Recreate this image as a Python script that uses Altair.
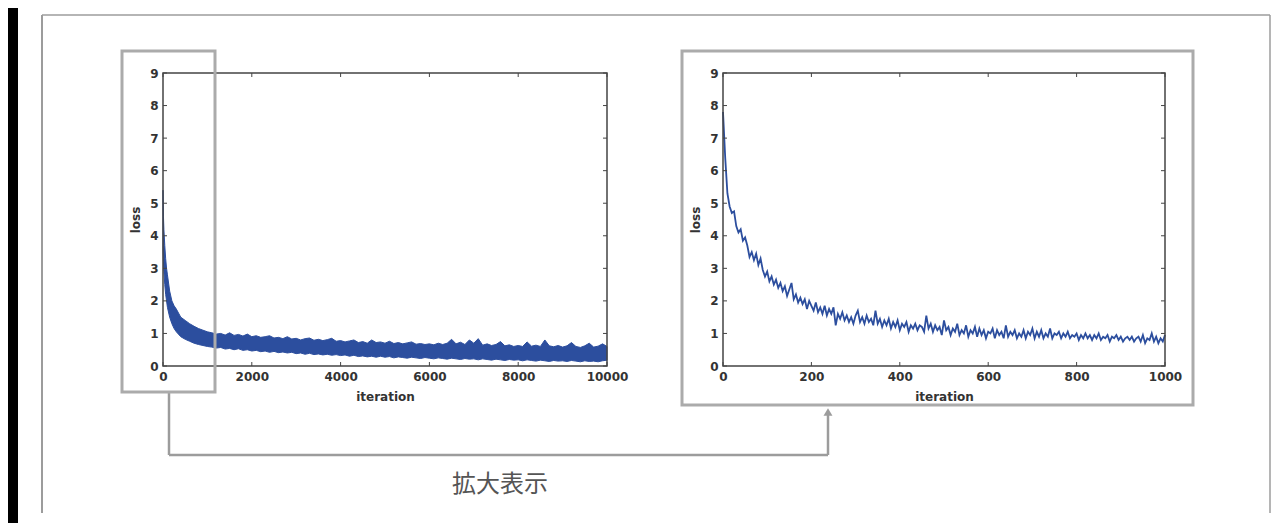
import altair as alt
import pandas as pd

# ---------------- data ----------------
# right panel: loss for the first 1000 iterations (sampled every 5 iterations)
zoom_iter = list(range(0, 1001, 5))
zoom_loss = [
    7.8, 6.4, 5.3, 4.9, 4.7, 4.75, 4.3, 4.1, 4.2, 3.85,
    3.95, 3.7, 3.35, 3.5, 3.25, 3.45, 3.1, 3.3, 2.95, 2.75,
    2.9, 2.6, 2.75, 2.5, 2.65, 2.4, 2.55, 2.3, 2.45, 2.15,
    2.35, 2.55, 2.05, 2.2, 1.95, 2.1, 1.9, 2.05, 1.75, 2.0,
    1.85, 1.7, 1.95, 1.65, 1.8, 1.6, 1.85, 1.55, 1.75, 1.6,
    1.8, 1.25, 1.6, 1.45, 1.65, 1.4, 1.55, 1.35, 1.5, 1.3,
    1.55, 1.7, 1.35, 1.5, 1.3, 1.55, 1.35, 1.45, 1.25, 1.7,
    1.3, 1.45, 1.2, 1.4, 1.25, 1.45, 1.15, 1.35, 1.2, 1.4,
    1.1, 1.3, 1.2, 1.35, 1.05, 1.25, 1.15, 1.3, 1.1, 1.25,
    1.2, 1.05, 1.55, 1.15, 1.3, 1.05, 1.25, 1.1, 1.2, 0.95,
    1.4, 1.1, 1.2, 0.95, 1.15, 1.05, 1.3, 0.95, 1.1, 1.0,
    1.25, 0.9, 1.1, 1.0, 1.2, 0.9, 1.15, 0.95, 1.1, 0.85,
    1.05, 1.0, 1.15, 0.85, 1.1, 0.95, 1.05, 0.85, 1.25, 0.9,
    1.05, 0.95, 1.1, 0.85, 1.0, 0.9, 1.1, 0.85, 1.05, 0.95,
    1.15, 0.85, 1.05, 0.9, 1.1, 0.85, 1.0, 0.9, 1.15, 0.85,
    1.0, 0.95, 1.05, 0.85, 1.0, 0.9, 1.05, 0.85, 0.95, 0.9,
    1.0, 0.8, 0.95, 0.85, 1.0, 0.85, 0.95, 0.8, 0.95, 0.85,
    1.0, 0.8, 0.9, 0.85, 0.95, 0.75, 0.9, 0.85, 0.95, 0.8,
    0.9, 0.75, 0.85, 0.9, 0.8, 0.9, 0.75, 0.85, 0.9, 0.75,
    0.95, 0.7, 0.85, 0.8, 1.0, 0.75, 0.9, 0.7, 0.85, 0.75,
    0.95,
]

# left panel: the dense 10000-iteration trace, read as its upper / lower envelope
band_iter = [0, 10, 20, 40, 60, 80, 100, 150, 200, 250, 300, 400, 500, 600, 700,
             800, 900, 1000] + list(range(1100, 10001, 100))
band_upper = [
    5.4, 4.6, 4.2, 3.7, 3.3, 3.0, 2.8, 2.3, 2.0, 1.85, 1.75, 1.5, 1.4, 1.3, 1.22,
    1.15, 1.1, 1.05,
    1.02, 0.98, 1.0, 0.95, 1.02, 0.94, 0.97, 0.92, 0.98, 0.9,
    0.93, 0.88, 0.9, 0.93, 0.86, 0.88, 0.84, 0.9, 0.83, 0.85,
    0.8, 0.84, 0.86, 0.79, 0.82, 0.78, 0.81, 0.85, 0.76, 0.78,
    0.74, 0.77, 0.8, 0.72, 0.75, 0.7, 0.8, 0.72, 0.74, 0.7,
    0.76, 0.69, 0.72, 0.68, 0.71, 0.74, 0.67, 0.69, 0.66, 0.68,
    0.65, 0.7, 0.66, 0.7, 0.82, 0.68, 0.73, 0.66, 0.8, 0.7,
    0.84, 0.64, 0.68, 0.63, 0.66, 0.75, 0.62, 0.65, 0.6, 0.63,
    0.6, 0.74, 0.61, 0.64, 0.6, 0.8, 0.62, 0.59, 0.63, 0.58,
    0.62, 0.72, 0.6, 0.57, 0.62, 0.7, 0.58, 0.61, 0.68, 0.6,
]
band_lower = [
    3.6, 3.2, 2.9, 2.5, 2.2, 2.0, 1.8, 1.5, 1.3, 1.15, 1.05, 0.9, 0.82, 0.76, 0.7,
    0.66, 0.63, 0.6,
    0.58, 0.55, 0.57, 0.52, 0.54, 0.5, 0.53, 0.48, 0.5, 0.46,
    0.48, 0.44, 0.46, 0.42, 0.45, 0.41, 0.43, 0.4, 0.42, 0.38,
    0.4, 0.36, 0.39, 0.35, 0.37, 0.34, 0.36, 0.33, 0.35, 0.32,
    0.34, 0.3, 0.33, 0.29, 0.31, 0.28, 0.3, 0.27, 0.3, 0.27,
    0.29, 0.25, 0.28, 0.26, 0.24, 0.27, 0.25, 0.23, 0.26, 0.24,
    0.22, 0.25, 0.23, 0.21, 0.24, 0.22, 0.2, 0.23, 0.21, 0.22,
    0.19, 0.22, 0.2, 0.18, 0.21, 0.19, 0.17, 0.2, 0.18, 0.19,
    0.16, 0.19, 0.17, 0.15, 0.18, 0.16, 0.14, 0.17, 0.15, 0.16,
    0.14, 0.17, 0.15, 0.13, 0.16, 0.14, 0.15, 0.13, 0.16, 0.18,
]

y_ticks = [0, 1, 2, 3, 4, 5, 6, 7, 8, 9]
left_x_ticks = [0, 2000, 4000, 6000, 8000, 10000]
right_x_ticks = [0, 200, 400, 600, 800, 1000]
zoom_label = "拡大表示"

# ---------------- styling ----------------
BLUE = "#2c4e9e"
FRAME = "#444444"
BOX = "#ababab"
LINEGREY = "#9c9c9c"
W1, W2, H = 444, 442, 293

one = pd.DataFrame({"a": [0]})


def y_scale():
    return alt.Scale(domain=[0, 9], nice=False, zero=False)


def x_axis(ticks):
    return alt.Axis(values=ticks, format="d", title="iteration", labelFlush=False)


def y_axis():
    return alt.Axis(values=y_ticks, format="d", title="loss", labelFlush=False)


def frame_and_ticks(xticks, xdomain, W):
    xs = alt.Scale(domain=xdomain, nice=False, zero=False)
    ys = y_scale()
    ydf = pd.DataFrame({"loss": y_ticks})
    xdf = pd.DataFrame({"iteration": xticks})
    left = alt.Chart(ydf).mark_rule(color=FRAME, strokeWidth=1).encode(
        y=alt.Y("loss:Q", scale=ys, axis=y_axis()), x=alt.value(0), x2=alt.value(4))
    right = alt.Chart(ydf).mark_rule(color=FRAME, strokeWidth=1).encode(
        y=alt.Y("loss:Q", scale=ys, axis=y_axis()), x=alt.value(W - 4), x2=alt.value(W))
    bottom = alt.Chart(xdf).mark_rule(color=FRAME, strokeWidth=1).encode(
        x=alt.X("iteration:Q", scale=xs, axis=x_axis(xticks)), y=alt.value(H - 4), y2=alt.value(H))
    top = alt.Chart(xdf).mark_rule(color=FRAME, strokeWidth=1).encode(
        x=alt.X("iteration:Q", scale=xs, axis=x_axis(xticks)), y=alt.value(0), y2=alt.value(4))
    frame = alt.Chart(one).mark_rect(filled=False, stroke=FRAME, strokeWidth=1.5).encode(
        x=alt.value(0), x2=alt.value(W), y=alt.value(0), y2=alt.value(H))
    return [left, right, bottom, top, frame]


def box(x1, x2, y1, y2, color, width):
    return alt.Chart(one).mark_rect(filled=False, stroke=color, strokeWidth=width).encode(
        x=alt.value(x1), x2=alt.value(x2), y=alt.value(y1), y2=alt.value(y2))


def rule(x1, x2, y1, y2, color, width):
    return alt.Chart(one).mark_rule(color=color, strokeWidth=width).encode(
        x=alt.value(x1), x2=alt.value(x2), y=alt.value(y1), y2=alt.value(y2))


# ----- left panel -----
band_df = pd.DataFrame({"iteration": band_iter, "upper": band_upper, "lower": band_lower})
xs_left = alt.Scale(domain=[0, 10000], nice=False, zero=False)
band = alt.Chart(band_df).mark_area(color=BLUE, stroke=BLUE, strokeWidth=1).encode(
    x=alt.X("iteration:Q", scale=xs_left, axis=x_axis(left_x_ticks)),
    y=alt.Y("upper:Q", scale=y_scale(), axis=y_axis()),
    y2="lower:Q",
)

# decorations (pixel positions relative to the left plot's origin)
extent = alt.Chart(one).mark_rect(color="white", opacity=0).encode(
    x=alt.value(-155), x2=alt.value(1109), y=alt.value(-65), y2=alt.value(450))
black = alt.Chart(one).mark_rect(color="black").encode(
    x=alt.value(-155), x2=alt.value(-145), y=alt.value(-65), y2=alt.value(450))
outer = [
    rule(-121, -121, -58, 440, LINEGREY, 2),
    rule(-121, 1107, -58, -58, LINEGREY, 1.5),
    rule(1107, 1107, -58, 440, LINEGREY, 1.5),
]
big_box = box(519, 1030, -22, 332, BOX, 3)
small_box = box(-41, 52, -22, 319, BOX, 3)
connector = [
    rule(6, 6, 319, 382, LINEGREY, 2.5),
    rule(6, 665, 382, 382, LINEGREY, 2.5),
    rule(665, 665, 340, 382, LINEGREY, 2.5),
]
arrow = alt.Chart(one).mark_point(shape="triangle-up", filled=True, color=LINEGREY,
                                  size=80, opacity=1).encode(
    x=alt.value(665), y=alt.value(339))
label = alt.Chart(one).mark_text(text=zoom_label, font="Noto Sans CJK JP", fontSize=24,
                                 color="#555555", align="center", baseline="middle").encode(
    x=alt.value(337), y=alt.value(412))

left_panel = alt.layer(
    extent, black, *outer, big_box, *connector, arrow, label,
    band, *frame_and_ticks(left_x_ticks, [0, 10000], W1), small_box,
).properties(width=W1, height=H)

# ----- right panel -----
zoom_df = pd.DataFrame({"iteration": zoom_iter, "loss": zoom_loss})
xs_right = alt.Scale(domain=[0, 1000], nice=False, zero=False)
zline = alt.Chart(zoom_df).mark_line(color=BLUE, strokeWidth=1.8).encode(
    x=alt.X("iteration:Q", scale=xs_right, axis=x_axis(right_x_ticks)),
    y=alt.Y("loss:Q", scale=y_scale(), axis=y_axis()),
)
right_panel = alt.layer(
    zline, *frame_and_ticks(right_x_ticks, [0, 1000], W2),
).properties(width=W2, height=H)

chart = alt.hconcat(left_panel, right_panel, spacing=116, bounds="flush", padding=0
).configure(background="white"
).configure_view(strokeWidth=0
).configure_axis(
    domain=False, ticks=False, grid=False,
    labelFont="DejaVu Sans", labelFontSize=12, labelFontWeight="bold", labelColor="#333333",
    titleFont="DejaVu Sans", titleFontSize=12, titleFontWeight="bold", titleColor="#333333",
    labelPadding=5,
).configure_axisX(titlePadding=9).configure_axisY(titlePadding=7)

chart.save("out.html", embed_options={"renderer": "svg", "actions": False})
